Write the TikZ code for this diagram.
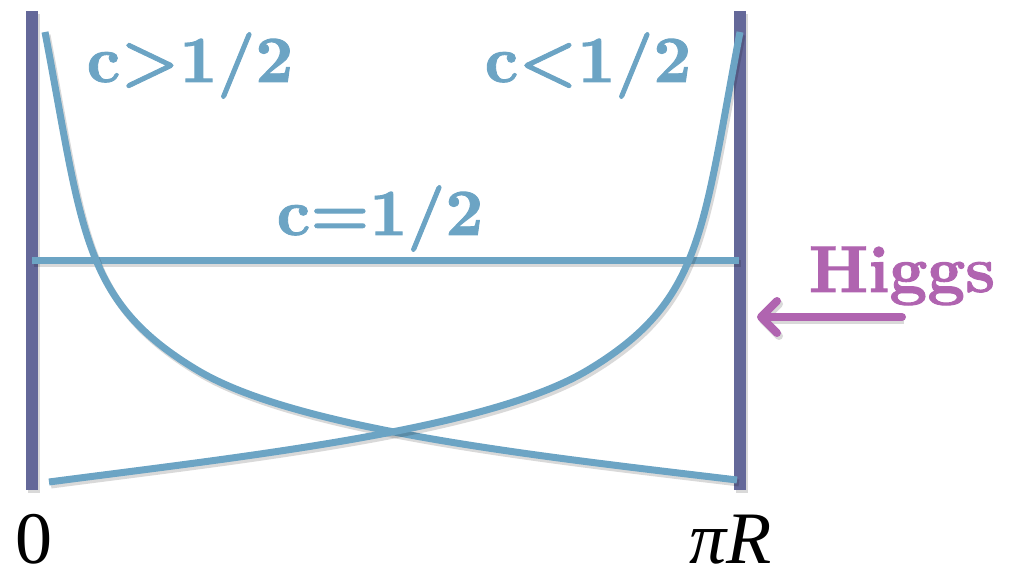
\documentclass[tikz,border=0pt]{standalone}
\usepackage{fontspec}
\newfontfamily\posfont{Liberation Serif}
\newfontfamily\labfont{lmroman10-bold.otf}[FakeBold=1.4]
\usetikzlibrary{arrows.meta}
\definecolor{wallblue}{HTML}{646899}
\definecolor{modeblue}{HTML}{6CA4C4}
\definecolor{higgspink}{HTML}{B064B0}

\begin{document}
\begin{tikzpicture}[x=0.5pt,y=-0.5pt,
  shadowed/.style={preaction={draw=black,opacity=.15,line width=#1,
    transform canvas={xshift=1pt,yshift=-1.5pt}}},
  wall/.style={line width=6pt,wallblue,shadowed=6pt},
  mode/.style={line width=3.5pt,modeblue,shadowed=3.5pt},
  lab/.style={modeblue,anchor=base,font=\fontsize{33}{36}\selectfont\labfont},
  endlab/.style={anchor=base,inner sep=0pt,font=\fontsize{37}{40}\selectfont\posfont}]
  \useasboundingbox (0,0) rectangle (1013,577);
  % branes
  \draw[wall] (32,11) coordinate (uvtop) -- (32,490) coordinate (uvbot);
  \draw[wall] (740,11) coordinate (irtop) -- (740,490) coordinate (irbot);
  \node[endlab] (zero) at (34,563) {0};
  \node[endlab] (piR) at (731,563) {\itshape πR};
  % zero mode profiles
  \draw[mode] (32,261) -- (739,261);
  \draw[mode] (45,32) .. controls (83,232) and (82,301) .. (197,370)
    .. controls (297,430) and (537,456) .. (737,480);
  \draw[mode] (740,32) .. controls (702,232) and (703,301) .. (588,370)
    .. controls (488,430) and (248,456) .. (49,482);
  \node[lab] (cbig) at (190,82) {c>1/2};
  \node[lab] (csmall) at (588,82) {c<1/2};
  \node[lab] (chalf) at (380,235) {c=1/2};
  % Higgs on the IR brane
  \node[anchor=base,higgspink,font=\fontsize{33}{36}\selectfont\labfont]
    (higgs) at (902,292) {Higgs};
  \coordinate (htail) at (902,317);
  \coordinate (hhead) at (757,317);
  \draw[-{Straight Barb[length=8pt,width=16pt,round]},line width=4pt,
    line cap=round,higgspink,shadowed=4pt] (htail) -- (hhead);
\end{tikzpicture}
\end{document}
